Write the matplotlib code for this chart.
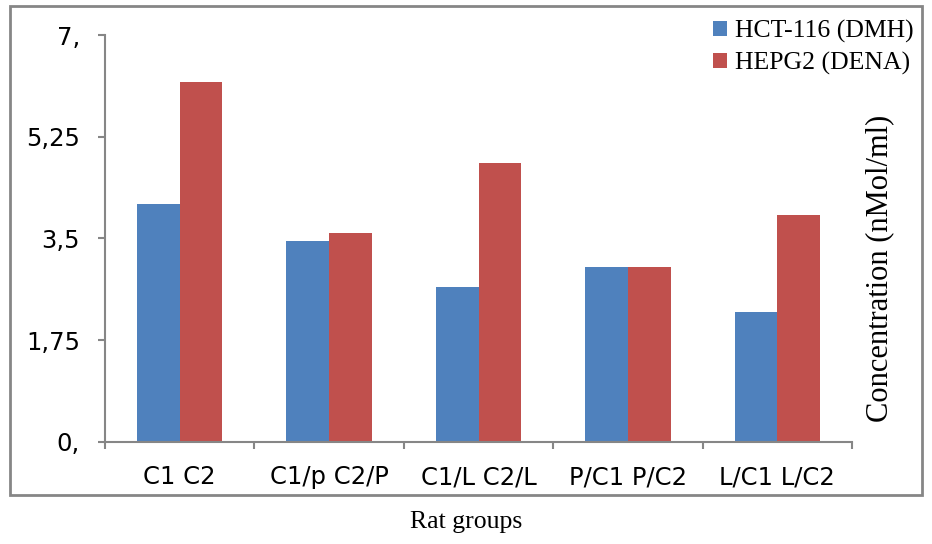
import matplotlib
matplotlib.use("Agg")
import matplotlib.pyplot as plt
from matplotlib.patches import Rectangle
import numpy as np

# data
groups = ["C1 C2", "C1/p C2/P", "C1/L C2/L", "P/C1 P/C2", "L/C1 L/C2"]
hct116 = [4.09, 3.45, 2.66, 3.01, 2.24]
hepg2 = [6.19, 3.59, 4.79, 3.01, 3.90]
series_names = ["HCT-116 (DMH)", "HEPG2 (DENA)"]
yticks = [0, 1.75, 3.5, 5.25, 7]
ytick_labels = ["0,", "1,75", "3,5", "5,25", "7,"]

BLUE = "#4F81BD"
RED = "#C0504D"
GRAY = "#868686"
SERIF = ["Liberation Serif", "DejaVu Serif"]

fig = plt.figure(figsize=(9.32, 5.44), dpi=100)
ax = fig.add_axes([105 / 932, 1 - 441.7 / 544, (852 - 105) / 932, (441.7 - 35) / 544])

x = np.arange(len(groups))
w = 1 / 3.5
ax.bar(x - w / 2, hct116, width=w, color=BLUE, label=series_names[0])
ax.bar(x + w / 2, hepg2, width=w, color=RED, label=series_names[1])

ax.set_xlim(-0.5, len(groups) - 0.5)
ax.set_ylim(0, 7)
ax.set_yticks(yticks)
ax.set_yticklabels(ytick_labels)
ax.set_xticks(x)
ax.set_xticklabels(groups)
ax.set_xticks(np.arange(-0.5, len(groups)), minor=True)

for s in ["top", "right"]:
    ax.spines[s].set_visible(False)
for s in ["left", "bottom"]:
    ax.spines[s].set_color(GRAY)
    ax.spines[s].set_linewidth(1.5)

ax.tick_params(axis="y", length=5, width=1.5, color=GRAY, pad=13, labelsize=17.5)
ax.tick_params(axis="x", which="major", length=0, pad=17, labelsize=17.5)
ax.tick_params(axis="x", which="minor", length=5, width=1.5, color=GRAY)

leg = ax.legend(loc="upper left", bbox_to_anchor=(713 / 932, 1 - 20 / 544),
                bbox_transform=fig.transFigure, frameon=False,
                prop={"family": SERIF, "size": 18.5}, handlelength=0.55,
                handleheight=0.55, handletextpad=0.3, labelspacing=0.35,
                borderaxespad=0, borderpad=0)

fig.text(880 / 932, 1 - 268 / 544, "Concentration (nMol/ml)", rotation=90,
         ha="center", va="center", family=SERIF, fontsize=22)
fig.text(466 / 932, 1 - 522 / 544, "Rat groups", ha="center", va="center",
         family=SERIF, fontsize=18.5)

# outer chart border
fig.patches.append(Rectangle((10 / 932, 1 - 495 / 544), 912 / 932, 489 / 544,
                             transform=fig.transFigure, fill=False,
                             edgecolor=GRAY, linewidth=2))

fig.savefig("out.png", dpi=100)
